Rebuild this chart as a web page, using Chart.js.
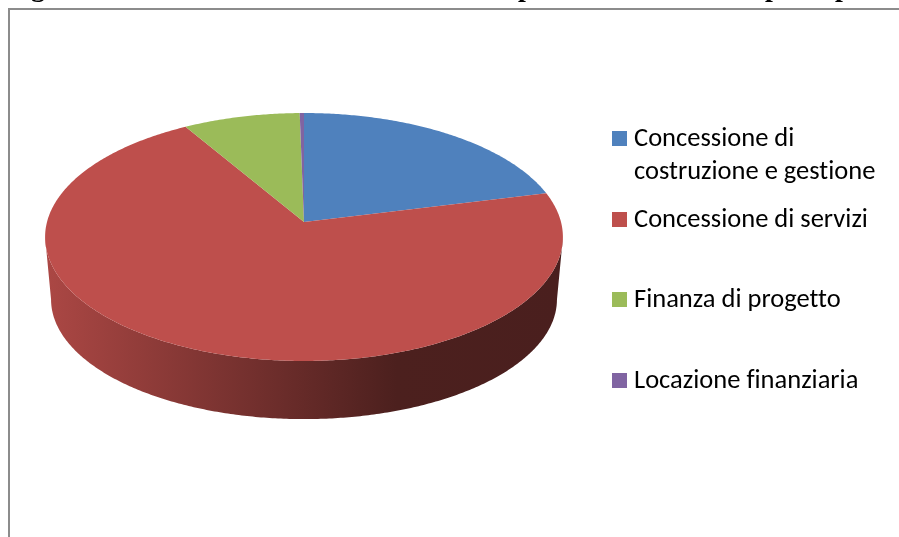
<!DOCTYPE html>
<html lang="it">
<head>
<meta charset="utf-8">
<title>Ripartizione per tipologia</title>
<script src="https://cdn.jsdelivr.net/npm/chart.js@4"></script>
<style>
  html, body { margin: 0; background: #fff; overflow: hidden; }
  #wrap { position: relative; width: 899px; height: 537px; overflow: hidden; }
  #frame { position: absolute; left: 8px; top: 8px; width: 900px; height: 540px; border-left: 2px solid #8c8c8c; border-top: 2px solid #8c8c8c; }
  canvas { position: absolute; left: 0; top: 0; }
  .cut { position: absolute; top: -27px; font: bold 28px/28px "Liberation Serif", serif; color: #000; }
  .swatch { position: absolute; left: 612px; width: 15px; height: 15px; }
  .label { position: absolute; left: 634px; white-space: nowrap; font: 26.5px/33px Carlito, Lato, sans-serif; font-variant-ligatures: none; color: #000; }
</style>
</head>
<body>
<div id="wrap">
  <div id="frame"></div>
  <canvas id="chart" width="899" height="537"></canvas>
  <div id="legend"></div>
</div>
<script>
/* global Chart */

const categories = ["Concessione di costruzione e gestione", "Concessione di servizi", "Finanza di progetto", "Locazione finanziaria"];
const shares = [21.1, 70.4, 8.2, 0.3];
const colors = ["#4f81bd", "#be4f4c", "#9bbb59", "#8064a2"];

// Only the descenders of the heading above the frame survive the crop
const headingLetters = ["g", "p", "p", "p"];
const headingX = [31, 518, 765, 835];

// Legend layout: first line top of each entry, label wrapped by hand
const legendLines = [["Concessione di", "costruzione e gestione"], ["Concessione di servizi"], ["Finanza di progetto"], ["Locazione finanziaria"]];
const legendY = [121, 202, 282, 363];
const swatchY = [131, 212, 292, 373];

// ─── Perspective disc ────────────────────────────────────────────────────────

const TILT = { cx: 304, apexY: 222, radius: 257, a: 95.3, c: -0.121, wallScaleX: 0.977, wallScaleY: 0.965, wallApexY: 285, frontFrom: 0.12 };

function rimPoint(theta) {
  const u = Math.sin(theta);
  const v = -Math.cos(theta);
  const w = 1 + TILT.c * v;
  return { x: TILT.cx + TILT.radius * u / w, y: (TILT.apexY + TILT.a * v) / w, v };
}

function wallPoint(p) {
  return {
    x: TILT.cx + (p.x - TILT.cx) * TILT.wallScaleX,
    y: TILT.wallApexY + (p.y - TILT.apexY) * TILT.wallScaleY,
  };
}

function shade(hex, f) {
  const n = parseInt(hex.slice(1), 16);
  return `rgb(${Math.round((n >> 16) * f)}, ${Math.round(((n >> 8) & 255) * f)}, ${Math.round((n & 255) * f)})`;
}

function sampleRim(t0, t1) {
  const steps = Math.max(2, Math.ceil((t1 - t0) / 0.01));
  const pts = [];
  for (let i = 0; i <= steps; i++) pts.push(rimPoint(t0 + (t1 - t0) * i / steps));
  return pts;
}

// Chart.js still lays out the angles; only the drawing of each slice is tilted
Chart.ArcElement.prototype.draw = function (ctx) {
  const { startAngle, endAngle } = this.getProps(["startAngle", "endAngle"]);
  const t0 = startAngle + Math.PI / 2;
  const t1 = endAngle + Math.PI / 2;
  const color = this.options.backgroundColor;
  const rim = sampleRim(t0, t1);

  // Side wall, front part of the rim only
  const front = rim.filter((p) => p.v >= TILT.frontFrom);
  if (front.length > 1) {
    const g = ctx.createLinearGradient(TILT.cx - TILT.radius, 0, TILT.cx + TILT.radius, 0);
    g.addColorStop(0, shade(color, 0.9));
    g.addColorStop(0.5, shade(color, 0.53));
    g.addColorStop(0.68, shade(color, 0.4));
    g.addColorStop(1, shade(color, 0.39));
    ctx.beginPath();
    front.forEach((p, i) => (i ? ctx.lineTo(p.x, p.y) : ctx.moveTo(p.x, p.y)));
    [...front].reverse().map(wallPoint).forEach((p) => ctx.lineTo(p.x, p.y));
    ctx.closePath();
    ctx.fillStyle = g;
    ctx.fill();
  }

  // Top face
  ctx.beginPath();
  ctx.moveTo(TILT.cx, TILT.apexY);
  rim.forEach((p) => ctx.lineTo(p.x, p.y));
  ctx.closePath();
  ctx.fillStyle = color;
  ctx.fill();
};

new Chart(document.getElementById("chart"), {
  type: "pie",
  data: {
    labels: categories,
    datasets: [{ data: shares, backgroundColor: colors, borderWidth: 0 }],
  },
  options: {
    responsive: false,
    animation: false,
    plugins: { legend: { display: false }, tooltip: { enabled: false } },
  },
});

// ─── Legend and heading ──────────────────────────────────────────────────────

const wrap = document.getElementById("wrap");

headingLetters.forEach((ch, i) => {
  const el = document.createElement("span");
  el.className = "cut";
  el.style.left = `${headingX[i]}px`;
  el.textContent = ch;
  wrap.appendChild(el);
});

const legend = document.getElementById("legend");
legendLines.forEach((lines, i) => {
  const swatch = document.createElement("div");
  swatch.className = "swatch";
  swatch.style.top = `${swatchY[i]}px`;
  swatch.style.background = colors[i];
  legend.appendChild(swatch);
  lines.forEach((line, j) => {
    const el = document.createElement("div");
    el.className = "label";
    el.style.top = `${legendY[i] + j * 33}px`;
    el.textContent = line;
    legend.appendChild(el);
  });
});
</script>
</body>
</html>
